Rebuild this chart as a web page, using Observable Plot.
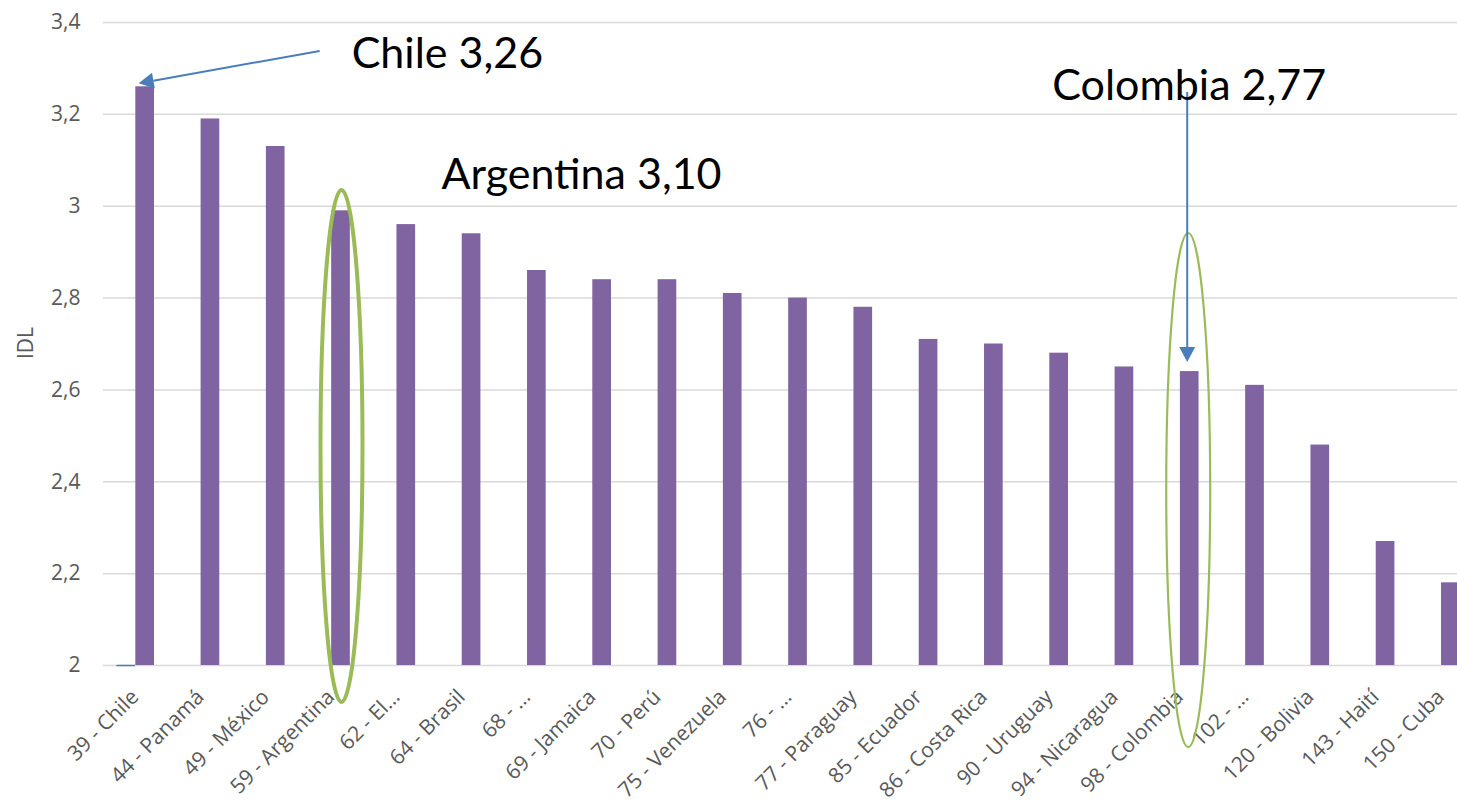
<!DOCTYPE html>
<html>
<head>
<meta charset="utf-8">
<script src="https://cdn.jsdelivr.net/npm/d3@7"></script>
<script src="https://cdn.jsdelivr.net/npm/@observablehq/plot@0.6"></script>
<style>
  html, body { margin: 0; padding: 0; background: #fff; overflow: hidden; }
  #chart { width: 1457px; height: 812px; }
</style>
</head>
<body>
<div id="chart"></div>
<script>
// ---- data ----
const categories = ["39 - Chile","44 - Panamá","49 - México","59 - Argentina","62 - El…","64 - Brasil","68 - …","69 - Jamaica","70 - Perú","75 - Venezuela","76 - …","77 - Paraguay","85 - Ecuador","86 - Costa Rica","90 - Uruguay","94 - Nicaragua","98 - Colombia","102 - …","120 - Bolivia","143 - Haití","150 - Cuba"];
const idl = [3.26,3.19,3.13,2.99,2.96,2.94,2.86,2.84,2.84,2.81,2.80,2.78,2.71,2.70,2.68,2.65,2.64,2.61,2.48,2.27,2.18];
const yTicks = [2,2.2,2.4,2.6,2.8,3,3.2,3.4];
const yTickLabels = ["2","2,2","2,4","2,6","2,8","3","3,2","3,4"];
const yTitle = "IDL";
// secondary (blank) series: only a flat mark at Chile
const seriesBCats = ["39 - Chile"];
const seriesBVals = [2];
// annotations
const annotLabels = ["Chile 3,26","Argentina 3,10","Colombia 2,77"];
const annotTargets = ["39 - Chile","59 - Argentina","98 - Colombia"];

const data = categories.map((c, i) => ({c, v: idl[i]}));
const dataB = seriesBCats.map((c, i) => ({c, v: seriesBVals[i]}));

const axisFont = "'Open Sans', sans-serif";
const chart = Plot.plot({
  width: 1457,
  height: 812,
  marginTop: 22,
  marginBottom: 147,
  marginLeft: 103,
  marginRight: 0,
  style: {fontFamily: axisFont, fontSize: "21px", color: "#595959", background: "#fff", overflow: "hidden"},
  x: {domain: categories, range: [112, 1483], paddingInner: 0.714, paddingOuter: 0.357, round: false},
  y: {domain: [2, 3.4]},
  marks: [
    Plot.ruleY(yTicks, {stroke: "#d9d9d9", strokeWidth: 1.5}),
    Plot.barY(data, {x: "c", y1: 2, y2: "v", fill: "#8064A2"}),
    Plot.tickY(dataB, {x: "c", y: "v", stroke: "#4a7ebb", strokeWidth: 1.5, dx: -19}),
    Plot.axisX({tickRotate: -45, tickSize: 0, tickPadding: 24, dx: -10, dy: 4, label: null, fontSize: 21, fill: "#595959"}),
    Plot.axisY(yTicks, {tickFormat: d => yTickLabels[yTicks.indexOf(d)], tickSize: 0, tickPadding: 23,
      label: null, fontSize: 21, fill: "#595959"}),
    Plot.text([yTitle], {frameAnchor: "left", dx: -77, dy: 15, rotate: -90, fontSize: 21, fill: "#595959"})
  ]
});
document.getElementById("chart").appendChild(chart);

// ---- annotations drawn with the plot's own scales ----
const sx = chart.scale("x"), sy = chart.scale("y");
const cx = c => sx.apply(c) + sx.bandwidth / 2;
const Y = v => sy.apply(v);
const g = d3.select(chart).append("g").attr("text-anchor", "start");
const blue = "#4a7ebb", green = "#9bbb59";

function arrow(x1, y1, x2, y2) {
  const a = Math.atan2(y2 - y1, x2 - x1), L = 15, W = 8;
  const bx = x2 - L * Math.cos(a), by = y2 - L * Math.sin(a);
  g.append("line").attr("x1", x1).attr("y1", y1).attr("x2", bx).attr("y2", by)
    .attr("stroke", blue).attr("stroke-width", 2);
  g.append("path").attr("d", `M${x2},${y2}L${bx + W * Math.sin(a)},${by - W * Math.cos(a)}L${bx - W * Math.sin(a)},${by + W * Math.cos(a)}Z`)
    .attr("fill", blue);
}

// ellipses
const ciA = annotTargets[1], ciC = annotTargets[2];
g.append("ellipse").attr("cx", cx(ciA) + 1).attr("cy", 446).attr("rx", 21).attr("ry", 256)
  .attr("fill", "none").attr("stroke", green).attr("stroke-width", 4);
g.append("ellipse").attr("cx", cx(ciC) - 1).attr("cy", 490).attr("rx", 22).attr("ry", 257)
  .attr("fill", "none").attr("stroke", green).attr("stroke-width", 2.2);

// arrows
const vChile = idl[categories.indexOf(annotTargets[0])];
const vCol = idl[categories.indexOf(annotTargets[2])];
arrow(cx(annotTargets[0]) + 175, Y(3.337), cx(annotTargets[0]) - 6, Y(vChile) - 3);
arrow(cx(ciC) - 2, Y(3.23) - 8, cx(ciC) - 2, Y(vCol) - 9);

// labels
const labelStyle = t => t.attr("font-family", "Lato, 'Open Sans', sans-serif").attr("font-size", 43).attr("fill", "#000");
labelStyle(g.append("text").attr("x", cx(annotTargets[0]) + 207).attr("y", Y(3.3)).text(annotLabels[0]));
labelStyle(g.append("text").attr("x", cx(ciA) + 101).attr("y", Y(3.036)).text(annotLabels[1]));
labelStyle(g.append("text").attr("x", cx(ciC) - 137).attr("y", Y(3.23)).text(annotLabels[2]));
</script>
</body>
</html>
